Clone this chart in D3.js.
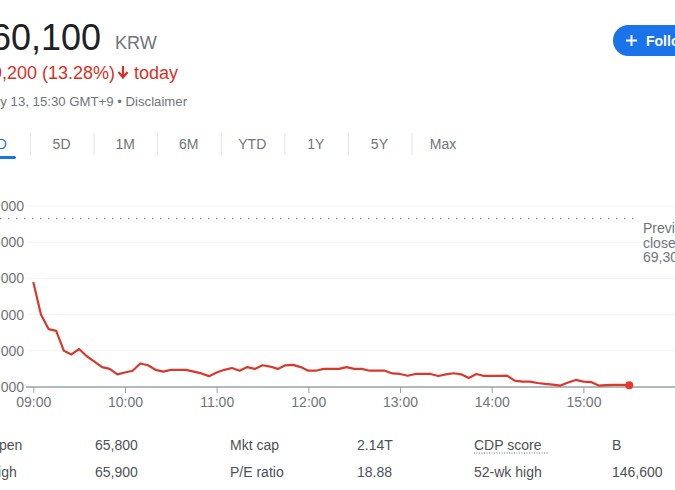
<!DOCTYPE html>
<html>
<head>
<meta charset="utf-8">
<script src="https://cdn.jsdelivr.net/npm/d3@7"></script>
<style>
  body { margin: 0; background: #fff; overflow: hidden; }
  svg { display: block; font-family: "Liberation Sans", Arial, sans-serif; }
</style>
</head>
<body>
<div id="chart"></div>
<script>
// intraday price, 5 minute steps
const times = [
  "09:00","09:05","09:10","09:15","09:20","09:25","09:30","09:35","09:40","09:45","09:50","09:55",
  "10:00","10:05","10:10","10:15","10:20","10:25","10:30","10:35","10:40","10:45","10:50","10:55",
  "11:00","11:05","11:10","11:15","11:20","11:25","11:30","11:35","11:40","11:45","11:50","11:55",
  "12:00","12:05","12:10","12:15","12:20","12:25","12:30","12:35","12:40","12:45","12:50","12:55",
  "13:00","13:05","13:10","13:15","13:20","13:25","13:30","13:35","13:40","13:45","13:50","13:55",
  "14:00","14:05","14:10","14:15","14:20","14:25","14:30","14:35","14:40","14:45","14:50","14:55",
  "15:00","15:05","15:10","15:15","15:20","15:25","15:30"
]
const prices = [
  65800, 64000, 63200, 63100, 62000, 61800, 62100, 61700, 61400, 61100, 61000, 60700,
  60800, 60900, 61300, 61200, 60950, 60850, 60950, 60950, 60950, 60850, 60750, 60600,
  60800, 60950, 61050, 60900, 61100, 61000, 61200, 61130, 61000, 61200, 61220, 61100,
  60900, 60900, 61000, 61000, 61000, 61100, 61000, 61000, 60900, 60900, 60900, 60750,
  60720, 60620, 60720, 60720, 60720, 60610, 60700, 60760, 60700, 60500, 60720, 60610,
  60620, 60620, 60630, 60350, 60300, 60300, 60220, 60170, 60130, 60080, 60250, 60390,
  60300, 60270, 60080, 60100, 60120, 60120, 60100
]
const yTicks = [60000, 62000, 64000, 66000, 68000, 70000]
const xTicks = ["09:00", "10:00", "11:00", "12:00", "13:00", "14:00", "15:00"]
const prevClose = 69300
const tabs = ["1D", "5D", "1M", "6M", "YTD", "1Y", "5Y", "Max"]
const statLabels = [["Open", "High"], ["Mkt cap", "P/E ratio"], ["CDP score", "52-wk high"]]
const statValues = [["65,800", "65,900"], ["2.14T", "18.88"], ["B", "146,600"]]

const width = 675
const height = 490
const grey = "#70757a"
const red = "#d93025"

const svg = d3.select("#chart").append("svg")
    .attr("width", width)
    .attr("height", height)

function toMin(t){
    const [h, m] = t.split(":").map(Number)
    return (h - 9) * 60 + m
}

// header
svg.append("text").attr("x", -9).attr("y", 50)
    .attr("font-size", 36).attr("fill", "#202124").text("60,100")
svg.append("text").attr("x", 115).attr("y", 49)
    .attr("font-size", 18).attr("fill", grey).text("KRW")
svg.append("text").attr("x", -18.5).attr("y", 79)
    .attr("font-size", 18).attr("fill", red).text("−9,200 (13.28%)")
svg.append("path")
    .attr("d", "M123,66 L123,76 M118.5,72 L123,77.5 L127.5,72")
    .attr("stroke", red).attr("stroke-width", 2.2).attr("fill", "none")
svg.append("text").attr("x", 134).attr("y", 79)
    .attr("font-size", 18).attr("fill", red).text("today")
svg.append("text").attr("x", -18).attr("y", 106)
    .attr("font-size", 13.2).attr("fill", grey).text("May 13, 15:30 GMT+9 • Disclaimer")

// follow button
svg.append("rect").attr("x", 613).attr("y", 25).attr("width", 100).attr("height", 31)
    .attr("rx", 15.5).attr("fill", "#1a73e8")
svg.append("path").attr("d", "M626,40.5 L637,40.5 M631.5,35 L631.5,46")
    .attr("stroke", "#fff").attr("stroke-width", 2)
svg.append("text").attr("x", 646).attr("y", 45.5)
    .attr("font-size", 14).attr("font-weight", "bold").attr("fill", "#fff").text("Follow")

// range tabs
const tabX = d3.scalePoint().domain(tabs).range([-2, 443])
svg.append("g").selectAll("text").data(tabs).join("text")
    .attr("x", d => tabX(d)).attr("y", 149)
    .attr("text-anchor", "middle").attr("font-size", 14)
    .attr("fill", d => d === "1D" ? "#1a73e8" : grey)
    .text(d => d)
svg.append("g").selectAll("line").data(tabs.slice(1)).join("line")
    .attr("x1", d => tabX(d) - 31).attr("x2", d => tabX(d) - 31)
    .attr("y1", 133).attr("y2", 155)
    .attr("stroke", "#e3e5e8")
svg.append("rect").attr("x", -10).attr("y", 156).attr("width", 26).attr("height", 3)
    .attr("rx", 1.5).attr("fill", "#1a73e8")

// chart scales
const x = d3.scaleLinear().domain([0, 360]).range([33.3, 583.4])
const y = d3.scaleLinear().domain([60000, 70000]).range([387, 206])

// gridlines and y labels
svg.append("g").selectAll("line").data(yTicks.slice(1)).join("line")
    .attr("x1", 28).attr("x2", width)
    .attr("y1", d => y(d)).attr("y2", d => y(d))
    .attr("stroke", "#f1f3f4")
svg.append("g").selectAll("text").data(yTicks).join("text")
    .attr("x", 24).attr("y", d => y(d)).attr("dy", "0.35em")
    .attr("text-anchor", "end").attr("font-size", 14).attr("fill", grey)
    .text(d => d3.format(",")(d))

// x axis
const xAxis = svg.append("g")
    .attr("transform", `translate(0,${y(60000)})`)
    .call(d3.axisBottom(x)
        .tickValues(xTicks.map(toMin))
        .tickFormat((d, i) => xTicks[i])
        .tickSize(6)
        .tickPadding(4))
xAxis.select(".domain").remove()
xAxis.selectAll(".tick line").attr("stroke", "#9aa0a6")
xAxis.selectAll(".tick text").attr("fill", grey).attr("font-size", 14)
    .attr("font-family", "Liberation Sans, Arial, sans-serif")
svg.append("line").attr("x1", 26).attr("x2", width)
    .attr("y1", y(60000)).attr("y2", y(60000))
    .attr("stroke", "#9aa0a6").attr("stroke-width", 1.3)

// previous close
svg.append("line").attr("x1", 0).attr("x2", 640)
    .attr("y1", y(prevClose)).attr("y2", y(prevClose))
    .attr("stroke", "#80868b").attr("stroke-width", 1.2)
    .attr("stroke-dasharray", "1.2,6.8")
const pc = svg.append("text").attr("x", 643).attr("y", 233)
    .attr("font-size", 14).attr("fill", grey)
pc.append("tspan").attr("x", 643).text("Previous")
pc.append("tspan").attr("x", 643).attr("dy", 14.5).text("close")
pc.append("tspan").attr("x", 643).attr("dy", 14.5).text(d3.format(",")(prevClose))

// price line
const line = d3.line()
    .x((d, i) => x(toMin(times[i])))
    .y(d => y(d))
svg.append("path").datum(prices)
    .attr("d", line)
    .attr("fill", "none")
    .attr("stroke", "#d9392b")
    .attr("stroke-width", 2.2)
    .attr("stroke-linejoin", "round")
const last = prices.length - 1
svg.append("circle")
    .attr("cx", x(toMin(times[last]))).attr("cy", y(prices[last]))
    .attr("r", 4).attr("fill", "#e53a2c")

// stats table
const colX = [[-12, 95], [230, 357], [474, 612]]
statLabels.forEach((col, c) => {
    col.forEach((label, r) => {
        const yy = 450 + r * 27
        svg.append("text").attr("x", colX[c][0]).attr("y", yy)
            .attr("font-size", 14).attr("fill", "#4d5156").text(label)
        if (label === "CDP score") {
            svg.append("line").attr("x1", colX[c][0]).attr("x2", colX[c][0] + 74)
                .attr("y1", yy + 3).attr("y2", yy + 3)
                .attr("stroke", "#70757a").attr("stroke-dasharray", "1,1.5")
        }
        svg.append("text").attr("x", colX[c][1]).attr("y", yy)
            .attr("font-size", 14).attr("fill", "#4d5156").text(statValues[c][r])
    })
})
</script>
</body>
</html>
